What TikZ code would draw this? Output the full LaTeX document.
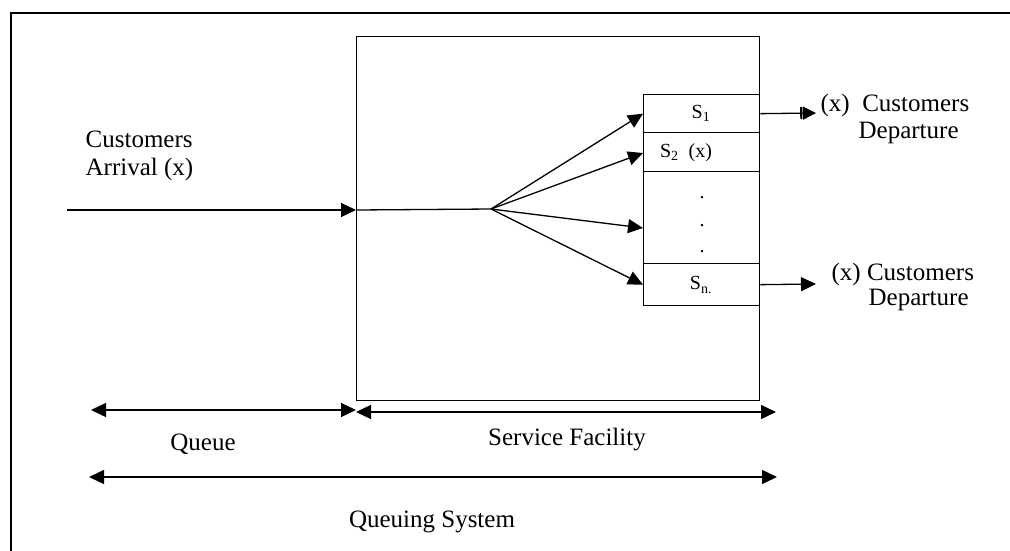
\documentclass[tikz,border=0pt]{standalone}
\usepackage{fontspec}
\setmainfont{Liberation Serif}
\usetikzlibrary{arrows.meta}
\begin{document}
\begin{tikzpicture}[x=1pt,y=-1pt,line width=1.3pt,
  tip/.style={-{Triangle[length=15pt,width=14pt]}},
  dtip/.style={{Triangle[length=15pt,width=14pt]}-{Triangle[length=15pt,width=14pt]}},
  bartip/.style={-{Bar[width=12pt,line width=2.2pt,sep=0.6pt]Triangle[length=13pt,width=13pt]}},
  lbl/.style={font=\fontsize{25}{29}\selectfont, inner sep=0pt},
  slbl/.style={font=\fontsize{20}{24}\selectfont, inner sep=0pt},
  box/.style={draw, line width=1.3pt, inner sep=0pt, anchor=north west}]
\useasboundingbox (0,0) rectangle (1010,550);
% outer frame (left and top edges only)
\draw[line width=2.4pt] (11,552) -- (11,13) -- (1012,13);
% main service box
\node[box, minimum width=403pt, minimum height=364pt] (main) at (356,36) {};
% servers
\node[box, minimum width=116pt, minimum height=38pt] (s1) at (643,94) {};
\node[box, minimum width=116pt, minimum height=39pt] (s2) at (643,132) {};
\node[box, minimum width=116pt, minimum height=92pt] (sd) at (643,171) {};
\node[box, minimum width=116pt, minimum height=42pt] (sn) at (643,263) {};
\node[slbl] (l1) at (701,113) {S\textsubscript{1}};
\node[slbl] (l2) at (686,153) {S\textsubscript{2}\ \ (x)};
\node[slbl] (dot1) at (702,198) {.};
\node[slbl] (dot2) at (702,226) {.};
\node[slbl] (dot3) at (702,252) {.};
\node[slbl] (ln) at (701,285) {S\textsubscript{n.}};
% arrival
\coordinate (in) at (67,210);
\coordinate (entry) at (356,210);
\coordinate (fan) at (491,209);
\coordinate (t2) at (643,153);
\coordinate (t3) at (643,228);
\draw[tip] (in) -- (entry);
\draw (entry) -- (fan);
\draw[tip] (fan) -- (s1.west);
\draw[tip] (fan) -- (t2);
\draw[tip] (fan) -- (t3);
\draw[tip] (fan) -- (sn.west);
\node[lbl, anchor=base west] (ca1) at (85,147) {Customers};
\node[lbl, anchor=base west] (ca2) at (85,175) {Arrival (x)};
% departures
\coordinate (d1) at (816,113);
\coordinate (d2) at (816,284);
\draw[bartip] (s1.east) -- (d1);
\draw[tip] (sn.east) -- (d2);
\node[lbl, anchor=base west] (cd1) at (820,111) {(x)\ \ Customers};
\node[lbl, anchor=base west] (cd2) at (858,138) {Departure};
\node[lbl, anchor=base west] (cd3) at (831,280) {(x) Customers};
\node[lbl, anchor=base west] (cd4) at (868,305) {Departure};
% bottom spans
\coordinate (q1) at (91,410);
\coordinate (q2) at (356,410);
\coordinate (sf1) at (356,412);
\coordinate (sf2) at (776,412);
\coordinate (qs1) at (89,477);
\coordinate (qs2) at (777,477);
\draw[dtip] (q1) -- (q2);
\draw[dtip] (sf1) -- (sf2);
\draw[dtip] (qs1) -- (qs2);
\node[lbl, anchor=base] (queue) at (203,450) {Queue};
\node[lbl, anchor=base] (sfac) at (567,445) {Service Facility};
\node[lbl, anchor=base] (qsys) at (432,527) {Queuing System};
\end{tikzpicture}
\end{document}
